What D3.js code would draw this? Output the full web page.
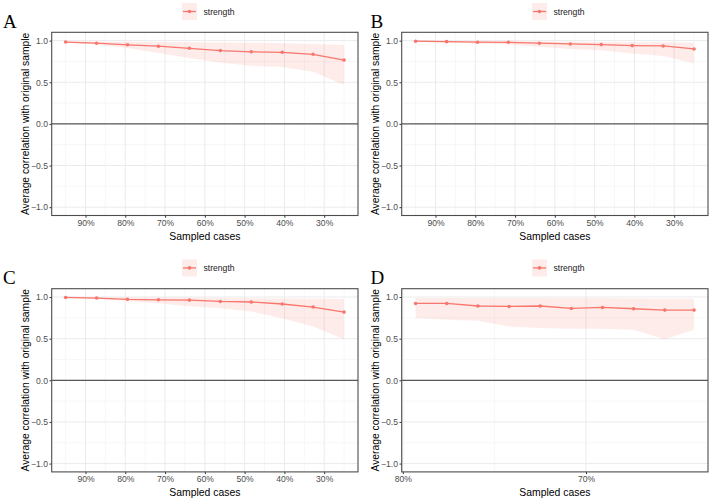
<!DOCTYPE html>
<html>
<head>
<meta charset="utf-8">
<script src="https://cdn.jsdelivr.net/npm/d3@7"></script>
<style>
  body { margin: 0; background: #fff; }
  text { font-family: "Liberation Sans", Arial, sans-serif; }
</style>
</head>
<body>
<svg width="711" height="501"></svg>
<script>
// sampled proportion of cases (x) for each panel
var casesABC = [0.95, 0.8722, 0.7944, 0.7167, 0.6389, 0.5611, 0.4833, 0.4056, 0.3278, 0.25];
var casesD = [0.793, 0.776, 0.759, 0.742, 0.725, 0.708, 0.691, 0.674, 0.657, 0.641];

// average correlation (line) and ribbon bounds
var strengthA = [0.983, 0.969, 0.950, 0.933, 0.908, 0.880, 0.866, 0.860, 0.836, 0.766];
var lowerA = [0.975, 0.952, 0.910, 0.850, 0.790, 0.737, 0.697, 0.683, 0.627, 0.466];
var upperA = [0.990, 0.988, 0.986, 0.985, 0.982, 0.978, 0.974, 0.968, 0.960, 0.948];

var strengthB = [0.993, 0.988, 0.981, 0.980, 0.969, 0.960, 0.952, 0.940, 0.936, 0.900];
var lowerB = [0.985, 0.975, 0.965, 0.955, 0.925, 0.900, 0.885, 0.845, 0.815, 0.727];
var upperB = [0.998, 0.997, 0.995, 0.993, 0.990, 0.988, 0.985, 0.982, 0.980, 0.975];

var strengthC = [0.995, 0.988, 0.972, 0.967, 0.963, 0.947, 0.940, 0.916, 0.880, 0.819];
var lowerC = [0.985, 0.975, 0.955, 0.925, 0.890, 0.865, 0.825, 0.745, 0.645, 0.494];
var upperC = [0.999, 0.998, 0.995, 0.993, 0.990, 0.988, 0.985, 0.982, 0.978, 0.975];

var strengthD = [0.923, 0.923, 0.892, 0.887, 0.892, 0.863, 0.875, 0.859, 0.843, 0.843];
var lowerD = [0.747, 0.727, 0.715, 0.646, 0.628, 0.618, 0.618, 0.606, 0.494, 0.606];
var upperD = [0.988, 0.988, 0.988, 0.988, 0.988, 0.986, 0.985, 0.983, 0.980, 0.978];

// axis ticks
var xTicksABC = [0.9, 0.8, 0.7, 0.6, 0.5, 0.4, 0.3];
var xMinorABC = [0.95, 0.85, 0.75, 0.65, 0.55, 0.45, 0.35, 0.25];
var xTicksD = [0.8, 0.7];
var xMinorD = [0.75];
var yTicks = [1.0, 0.5, 0.0, -0.5, -1.0];
var yMinor = [0.75, 0.25, -0.25, -0.75];

var seriesName = "strength";
var letters = ["A", "B", "C", "D"];

var red = "#F8766D";

var svg = d3.select("svg");
svg.append("rect").attr("width", 711).attr("height", 501).attr("fill", "#fff");

var panels = [
  { letter: letters[0], cases: casesABC, mean: strengthA, lo: lowerA, hi: upperA, ticks: xTicksABC, minor: xMinorABC, col: 0, row: 0 },
  { letter: letters[1], cases: casesABC, mean: strengthB, lo: lowerB, hi: upperB, ticks: xTicksABC, minor: xMinorABC, col: 1, row: 0 },
  { letter: letters[2], cases: casesABC, mean: strengthC, lo: lowerC, hi: upperC, ticks: xTicksABC, minor: xMinorABC, col: 0, row: 1 },
  { letter: letters[3], cases: casesD, mean: strengthD, lo: lowerD, hi: upperD, ticks: xTicksD, minor: xMinorD, col: 1, row: 1 }
];

panels.forEach(drawPanel);

function drawPanel(p) {
  var ox = p.col * 350,
      oy = p.row * 256.4,
      left = 51.7, right = 358, top = 32.3, bottom = 215.5;

  var g = svg.append("g").attr("transform", "translate(" + ox + "," + oy + ")");

  // ggplot style 5% expansion, reversed x
  var ext = d3.extent(p.cases), pad = (ext[1] - ext[0]) * 0.05;
  var x = d3.scaleLinear().domain([ext[1] + pad, ext[0] - pad]).range([left, right]);
  var y = d3.scaleLinear().domain([-1.1, 1.1]).range([bottom, top]);

  var grid = g.append("g");
  grid.selectAll(".ymin").data(yMinor).enter().append("line")
      .attr("x1", left).attr("x2", right)
      .attr("y1", function(d) { return y(d); }).attr("y2", function(d) { return y(d); })
      .attr("stroke", "#f2f2f2").attr("stroke-width", 0.6);
  grid.selectAll(".xmin").data(p.minor).enter().append("line")
      .attr("y1", top).attr("y2", bottom)
      .attr("x1", function(d) { return x(d); }).attr("x2", function(d) { return x(d); })
      .attr("stroke", "#f2f2f2").attr("stroke-width", 0.6);
  grid.selectAll(".ymaj").data(yTicks).enter().append("line")
      .attr("x1", left).attr("x2", right)
      .attr("y1", function(d) { return y(d); }).attr("y2", function(d) { return y(d); })
      .attr("stroke", "#ebebeb").attr("stroke-width", 1);
  grid.selectAll(".xmaj").data(p.ticks).enter().append("line")
      .attr("y1", top).attr("y2", bottom)
      .attr("x1", function(d) { return x(d); }).attr("x2", function(d) { return x(d); })
      .attr("stroke", "#ebebeb").attr("stroke-width", 1);

  var rows = p.cases.map(function(c, i) { return { c: c, m: p.mean[i], lo: p.lo[i], hi: p.hi[i] }; });

  g.append("path")
      .datum(rows)
      .attr("fill", red).attr("fill-opacity", 0.14)
      .attr("d", d3.area()
          .x(function(d) { return x(d.c); })
          .y0(function(d) { return y(d.lo); })
          .y1(function(d) { return y(d.hi); }));

  // zero line
  g.append("line")
      .attr("x1", left).attr("x2", right)
      .attr("y1", y(0)).attr("y2", y(0))
      .attr("stroke", "#333").attr("stroke-width", 1);

  g.append("path")
      .datum(rows)
      .attr("fill", "none").attr("stroke", red).attr("stroke-width", 1.3)
      .attr("d", d3.line()
          .x(function(d) { return x(d.c); })
          .y(function(d) { return y(d.m); }));

  g.selectAll(".pt").data(rows).enter().append("circle")
      .attr("cx", function(d) { return x(d.c); })
      .attr("cy", function(d) { return y(d.m); })
      .attr("r", 1.8).attr("fill", red);

  // axes
  var xAxis = g.append("g")
      .attr("transform", "translate(0," + bottom + ")")
      .call(d3.axisBottom(x).tickValues(p.ticks).tickFormat(d3.format(".0%")).tickSize(2.2).tickPadding(2));
  var yAxis = g.append("g")
      .attr("transform", "translate(" + left + ",0)")
      .call(d3.axisLeft(y).tickValues(yTicks).tickFormat(d3.format(".1f")).tickSize(2.2).tickPadding(1.5));
  [xAxis, yAxis].forEach(function(a) {
    a.select(".domain").remove();
    a.selectAll(".tick line").attr("stroke", "#333");
    a.selectAll(".tick text").attr("fill", "#4d4d4d").style("font-size", "8.6px")
        .style("font-family", "'Liberation Sans', Arial, sans-serif");
  });

  g.append("rect")
      .attr("x", left).attr("y", top)
      .attr("width", right - left).attr("height", bottom - top)
      .attr("fill", "none").attr("stroke", "#4d4d4d").attr("stroke-width", 1.1);

  g.append("text")
      .attr("x", (left + right) / 2).attr("y", 239.5)
      .attr("text-anchor", "middle").style("font-size", "10.4px").attr("fill", "#000")
      .text("Sampled cases");

  g.append("text")
      .attr("transform", "translate(28.8," + ((top + bottom) / 2) + ") rotate(-90)")
      .attr("text-anchor", "middle").style("font-size", "10.3px").attr("fill", "#000")
      .text("Average correlation with original sample");

  // legend
  var lg = g.append("g").attr("transform", "translate(182,3)");
  lg.append("rect").attr("width", 15).attr("height", 17).attr("fill", red).attr("fill-opacity", 0.14);
  lg.append("line").attr("x1", 1).attr("x2", 14).attr("y1", 8.5).attr("y2", 8.5)
      .attr("stroke", red).attr("stroke-width", 1.3);
  lg.append("circle").attr("cx", 7.5).attr("cy", 8.5).attr("r", 1.8).attr("fill", red);
  lg.append("text").attr("x", 21.5).attr("y", 11.5)
      .style("font-size", "8.6px").attr("fill", "#1a1a1a").text(seriesName);

  g.append("text")
      .attr("x", p.col === 0 ? 3 : 20.5).attr("y", 28)
      .style("font-family", "'Liberation Serif', 'Times New Roman', serif")
      .style("font-size", "19px").attr("fill", "#000")
      .text(p.letter);
}
</script>
</body>
</html>
